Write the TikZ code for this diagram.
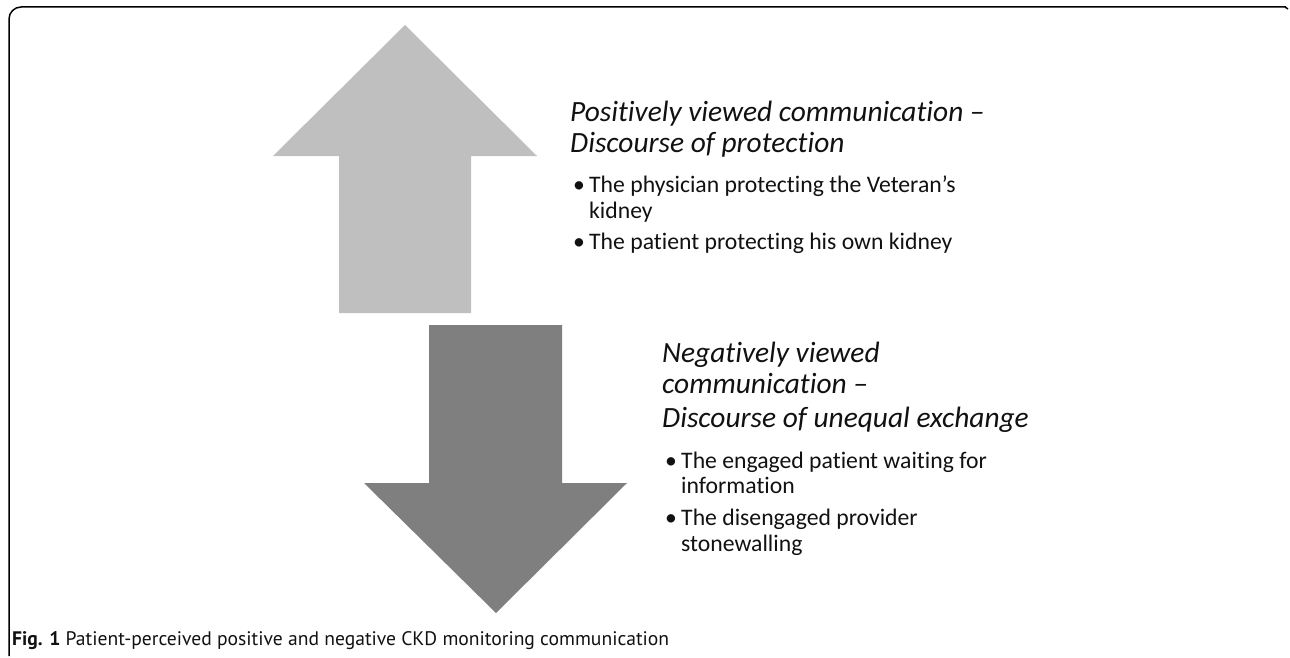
\documentclass[tikz,border=0pt]{standalone}
\usepackage{fontspec}
\setmainfont{Carlito}[Ligatures={NoCommon}, RawFeature={-liga;-clig;-dlig}]
\newfontfamily\capfont{PT Sans}
\definecolor{uparrow}{HTML}{BFBFBF}
\definecolor{downarrow}{HTML}{7F7F7F}
\definecolor{txt}{HTML}{111111}
\tikzset{
  title/.style={anchor=base west, inner sep=0pt, text=txt, font=\fontsize{29.4}{34}\selectfont\itshape},
  item/.style={anchor=base west, inner sep=0pt, text=txt, font=\fontsize{23.7}{27}\selectfont},
  caption/.style={anchor=base west, inner sep=0pt, text=txt, font=\fontsize{19.6}{22}\selectfont\capfont},
  frame/.style={line width=1.5pt, black, rounded corners=12pt}
}
\begin{document}
\begin{tikzpicture}[x=1pt,y=-1pt]
\useasboundingbox (0,0) rectangle (1290,658);
% frame
\draw[frame] (9,656) -- (9,7) -- (1286,7);
\draw[line width=1.5pt] (1285,7) -- (1288,9);
% up arrow
\fill[uparrow] (405,25) -- (537,156) -- (471,156) -- (471,313) -- (339,313) -- (339,156) -- (273,156) -- cycle;
% down arrow
\fill[downarrow] (429,325) -- (562,325) -- (562,483) -- (627,483) -- (496,613) -- (364,483) -- (429,483) -- cycle;
% positive text
\node[title] (p1) at (570,122) {Positively viewed communication –};
\node[title] (p2) at (570,153) {Discourse of protection};
\node[item] (pb1) at (573,192) {•};
\node[item] (pt1) at (589,192) {The physician protecting the Veteran’s};
\node[item] (pt1b) at (589,218) {kidney};
\node[item] (pb2) at (573,249) {•};
\node[item] (pt2) at (589,249) {The patient protecting his own kidney};
% negative text
\node[title] (n1) at (662,362) {Negatively viewed};
\node[title] (n2) at (662,393) {communication –};
\node[title] (n3) at (662,427) {Discourse of unequal exchange};
\node[item] (nb1) at (665,468) {•};
\node[item] (nt1) at (681,468) {The engaged patient waiting for};
\node[item] (nt1b) at (681,493) {information};
\node[item] (nb2) at (665,525) {•};
\node[item] (nt2) at (681,525) {The disengaged provider};
\node[item] (nt2b) at (681,551) {stonewalling};
% caption
\node[caption] (cap) at (12,645) {\textbf{Fig. 1} Patient-perceived positive and negative CKD monitoring communication};
\end{tikzpicture}
\end{document}
